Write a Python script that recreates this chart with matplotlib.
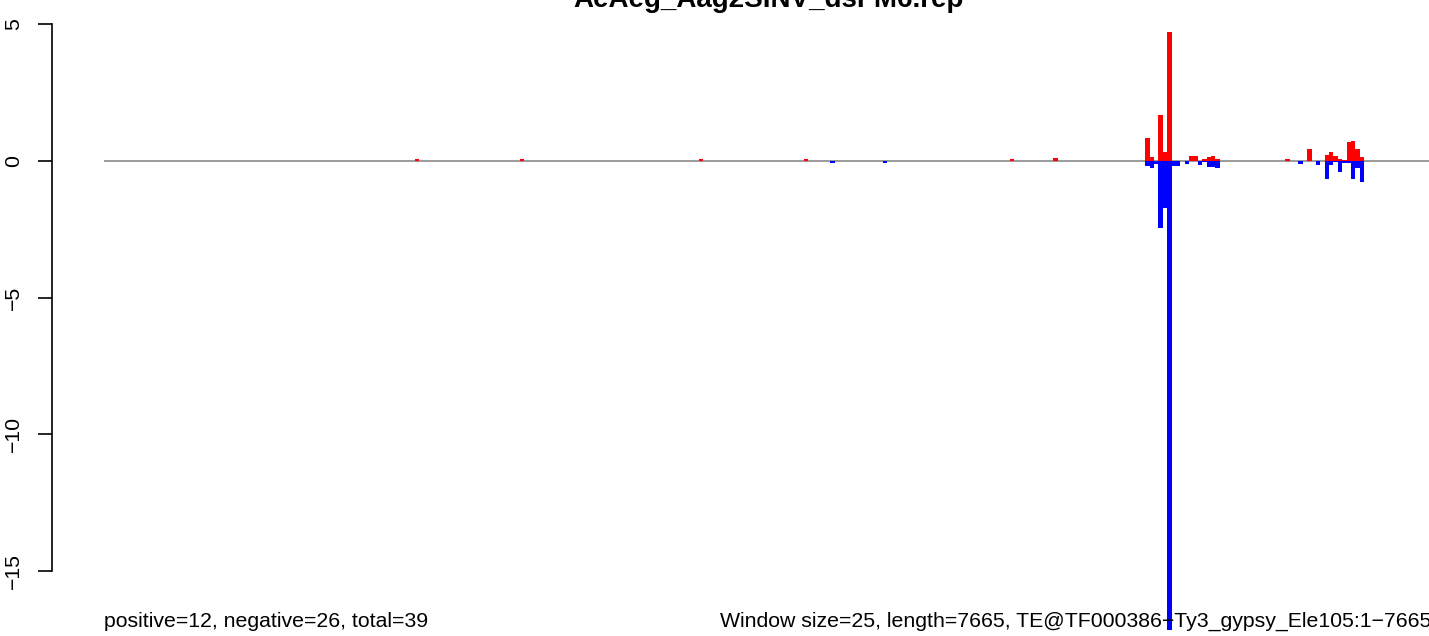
import matplotlib
matplotlib.use("Agg")
import matplotlib.pyplot as plt

plt.rcParams['font.family'] = ['Liberation Sans', 'DejaVu Sans']

title = "AeAeg_Aag2SINV_dsFM6.rep"
n_windows = 307

# window index -> value (positive strand / negative strand)
pos_windows = [71, 95, 136, 160, 207, 217, 238, 239, 241, 242, 243, 248, 249,
               251, 252, 253, 254, 270, 275, 279, 280, 281, 282, 283, 284, 285,
               286, 287]
pos_values = [0.06, 0.06, 0.06, 0.06, 0.06, 0.1, 0.84, 0.15, 1.68, 0.33, 4.72,
              0.18, 0.18, 0.07, 0.14, 0.18, 0.07, 0.06, 0.43, 0.21, 0.32, 0.18,
              0.07, 0.04, 0.69, 0.72, 0.43, 0.13]
neg_windows = [166, 178, 238, 239, 240, 241, 242, 243, 244, 245, 247, 250, 251,
               252, 253, 254, 273, 277, 279, 280, 281, 282, 283, 284, 285, 286,
               287]
neg_values = [-0.07, -0.07, -0.2, -0.28, -0.13, -2.44, -1.74, -17.15, -0.2, -0.2,
              -0.11, -0.15, -0.05, -0.22, -0.22, -0.26, -0.11, -0.14, -0.65,
              -0.14, -0.05, -0.4, -0.07, -0.07, -0.65, -0.25, -0.77]

yticks = [5, 0, -5, -10, -15]
left_note = "positive=12, negative=26, total=39"
right_note = "Window size=25, length=7665, TE@TF000386\u2212Ty3_gypsy_Ele105:1\u22127665"

W, H = 1429, 636
fig = plt.figure(figsize=(W / 100, H / 100), dpi=100)

# plot region in pixels (the original picture is cropped on the right and bottom)
px_left, px_right, px_top, px_bottom = 52, 1499, 8, 656
ax = fig.add_axes([px_left / W, 1 - px_bottom / H,
                   (px_right - px_left) / W, (px_bottom - px_top) / H])

w = 4.375      # pixels per window
zero_y = 160.8
unit = 27.35   # pixels per unit
ax.set_xlim(-(104 - px_left) / w, (px_right - 104) / w)
ax.set_ylim(-(px_bottom - zero_y) / unit, (zero_y - px_top) / unit)

ax.hlines(0, 0, n_windows, color='#8a8a8a', lw=1.2, zorder=1)
ax.bar(pos_windows, pos_values, width=1, align='edge', color='#ff0000', lw=0, zorder=2)
ax.bar(neg_windows, neg_values, width=1, align='edge', color='#0000ff', lw=0, zorder=2)

for s in ['top', 'right', 'bottom']:
    ax.spines[s].set_visible(False)
ax.spines['left'].set_bounds(-15, 5)
ax.spines['left'].set_linewidth(1.2)
ax.set_xticks([])
ax.set_yticks(yticks)
ax.set_yticklabels([str(t).replace('-', '\u2212') for t in yticks],
                   rotation=90, va='center', fontsize=15.3)
ax.tick_params(axis='y', length=10, width=1.2, pad=11)

fig.text(768 / W, 1 - 7 / H, title, ha='center', va='baseline',
         fontsize=20, fontweight='bold')
fig.text(104 / W, 1 - 627 / H, left_note, ha='left', va='baseline', fontsize=15.3)
fig.text(720 / W, 1 - 627 / H, right_note, ha='left', va='baseline', fontsize=15.3)

fig.savefig("out.png", dpi=100)
